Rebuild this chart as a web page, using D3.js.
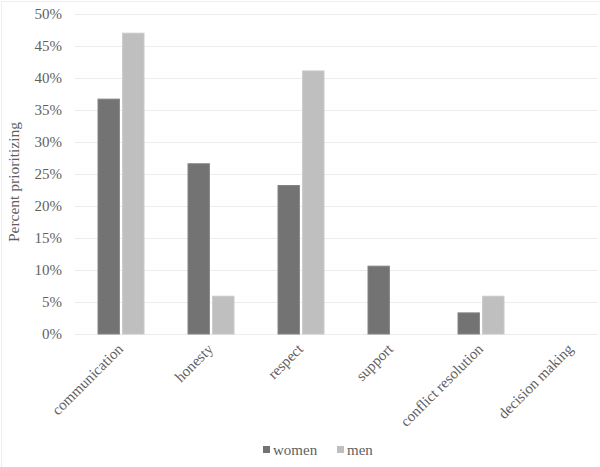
<!DOCTYPE html>
<html>
<head>
<meta charset="utf-8">
<script src="https://cdn.jsdelivr.net/npm/d3@7"></script>
<style>
  body { margin: 0; background: #fff; }
  svg text { font-family: "Liberation Serif", "Tinos", "Times New Roman", "DejaVu Serif", serif !important; fill: #5f5f5f; }
</style>
</head>
<body>
<div id="chart"></div>
<script>
const categories = ['communication', 'honesty', 'respect', 'support', 'conflict resolution', 'decision making']
const women = [36.7, 26.6, 23.2, 10.6, 3.3, 0]
const men = [47.0, 5.9, 41.1, 0, 5.9, 0]
const seriesNames = ['women', 'men']
const seriesColors = ['#737373', '#bfbfbf']
const yTicks = [0, 5, 10, 15, 20, 25, 30, 35, 40, 45, 50]

const width = 600
const height = 467
const plotLeft = 76
const plotRight = 616
const plotTop = 14
const plotBottom = 334

const svg = d3.select('#chart')
  .append('svg')
  .attr('width', width)
  .attr('height', height)

svg.append('rect')
  .attr('x', 1.5)
  .attr('y', 1.5)
  .attr('width', width + 10)
  .attr('height', height + 10)
  .attr('fill', 'none')
  .attr('stroke', '#eeeeee')

const x = d3.scaleBand()
  .domain(categories)
  .range([plotLeft, plotRight])

const inner = d3.scaleBand()
  .domain(seriesNames)
  .range([x.bandwidth() / 2 - 23, x.bandwidth() / 2 + 23])
  .paddingInner(0.13)

const y = d3.scaleLinear()
  .domain([0, 50])
  .range([plotBottom, plotTop])

// gridlines
svg.append('g')
  .selectAll('line')
  .data(yTicks)
  .enter()
  .append('line')
  .attr('x1', plotLeft - 1)
  .attr('x2', 598)
  .attr('y1', d => Math.round(y(d)) + 0.5)
  .attr('y2', d => Math.round(y(d)) + 0.5)
  .attr('stroke', '#ececec')
  .attr('stroke-width', 1.2)

// y axis labels
const yAxis = svg.append('g')
  .attr('transform', `translate(${plotLeft - 14},0)`)
  .call(d3.axisLeft(y).tickValues(yTicks).tickFormat(d => d + '%').tickSize(0).tickPadding(0))
yAxis.select('.domain').remove()
yAxis.attr('font-family', null)
yAxis.selectAll('text')
  .attr('font-size', 15)

// bars
const rows = categories.map((c, i) => ({ category: c, values: [women[i], men[i]] }))

const groups = svg.append('g')
  .selectAll('g')
  .data(rows)
  .enter()
  .append('g')
  .attr('transform', d => `translate(${x(d.category)},0)`)

groups.selectAll('rect')
  .data(d => d.values.map((v, j) => ({ name: seriesNames[j], value: v, j: j })))
  .enter()
  .filter(d => d.value > 0)
  .append('rect')
  .attr('x', d => inner(d.name))
  .attr('width', inner.bandwidth())
  .attr('y', d => y(d.value))
  .attr('height', d => y(0) - y(d.value))
  .attr('fill', d => seriesColors[d.j])
  .attr('stroke', d => d.j === 0 ? '#848484' : '#c9c9c9')
  .attr('stroke-width', 1)

// x labels
const xAxis = svg.append('g')
  .attr('transform', `translate(0,${plotBottom})`)
  .call(d3.axisBottom(x).tickSize(0).tickPadding(0))
xAxis.select('.domain').remove()
xAxis.attr('font-family', null)
xAxis.selectAll('text')
  .attr('font-size', 15)
  .attr('text-anchor', 'end')
  .attr('dy', 0)
  .attr('transform', 'translate(3,16) rotate(-45)')

// legend
const legend = svg.append('g')
  .attr('transform', 'translate(263,455)')

const legendX = [0, 74]
seriesNames.forEach((name, i) => {
  legend.append('rect')
    .attr('x', legendX[i])
    .attr('y', -9)
    .attr('width', 7)
    .attr('height', 7)
    .attr('fill', seriesColors[i])
  legend.append('text')
    .attr('x', legendX[i] + 10)
    .attr('y', 0)
    .attr('font-size', 15)
    .text(name)
})

// y title
svg.append('text')
  .attr('transform', 'translate(19,182) rotate(-90)')
  .attr('text-anchor', 'middle')
  .attr('font-size', 15.5)
  .text('Percent prioritizing')
</script>
</body>
</html>
